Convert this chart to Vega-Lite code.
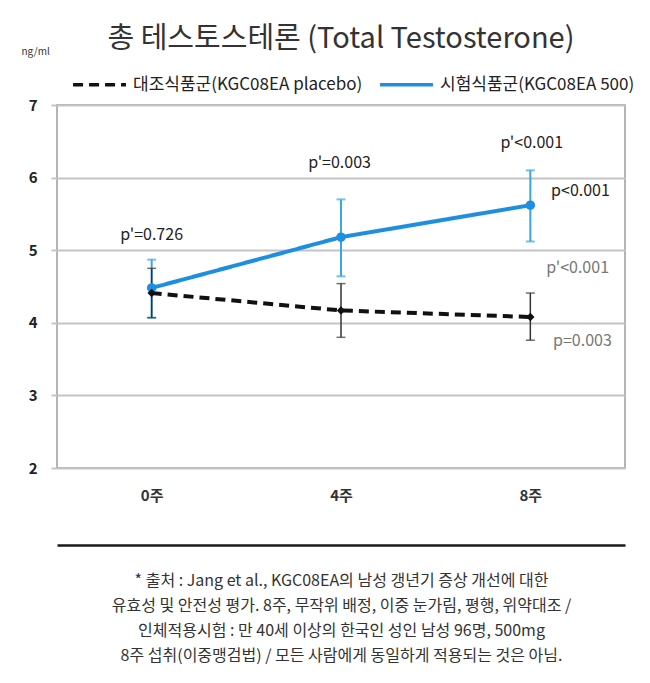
{
  "$schema": "https://vega.github.io/schema/vega-lite/v6.json",
  "width": 568,
  "height": 363,
  "autosize": {"type": "none"},
  "padding": {"left": 57, "top": 105, "right": 25, "bottom": 215},
  "background": "white",
  "title": {
    "text": "총 테스토스테론 (Total Testosterone)",
    "fontSize": 29,
    "fontWeight": "normal",
    "color": "#333333",
    "font": "Noto Sans CJK KR",
    "anchor": "middle",
    "offset": -8
  },
  "datasets": {
    "series": [
      {"week": 0, "group": "대조식품군(KGC08EA placebo)", "mean": 4.41, "lo": 4.07, "hi": 4.75},
      {"week": 4, "group": "대조식품군(KGC08EA placebo)", "mean": 4.17, "lo": 3.80, "hi": 4.54},
      {"week": 8, "group": "대조식품군(KGC08EA placebo)", "mean": 4.08, "lo": 3.76, "hi": 4.41},
      {"week": 0, "group": "시험식품군(KGC08EA 500)", "mean": 4.48, "lo": 4.07, "hi": 4.87},
      {"week": 4, "group": "시험식품군(KGC08EA 500)", "mean": 5.18, "lo": 4.64, "hi": 5.70},
      {"week": 8, "group": "시험식품군(KGC08EA 500)", "mean": 5.62, "lo": 5.12, "hi": 6.10}
    ],
    "notes": [
      {"week": 0, "value": 5.21, "label": "p'=0.726", "kind": "main"},
      {"week": 3.97, "value": 6.2, "label": "p'=0.003", "kind": "main"},
      {"week": 8.03, "value": 6.48, "label": "p'<0.001", "kind": "main"},
      {"week": 9.06, "value": 5.82, "label": "p<0.001", "kind": "main"},
      {"week": 9.0, "value": 4.75, "label": "p'<0.001", "kind": "faint"},
      {"week": 9.1, "value": 3.75, "label": "p=0.003", "kind": "faint"}
    ]
  },
  "resolve": {"axis": {"x": "independent"}},
  "layer": [
    {
      "data": {"name": "series"},
      "mark": {"type": "line", "strokeWidth": 4},
      "encoding": {
        "x": {
          "field": "week",
          "type": "quantitative",
          "scale": {"domain": [-2, 10], "nice": false, "zero": false},
          "axis": {
            "values": [0, 4, 8],
            "labelExpr": "datum.value + '주'",
            "ticks": false,
            "domain": false,
            "grid": false,
            "labelFontSize": 15,
            "labelFontWeight": "bold",
            "labelColor": "#333333",
            "labelPadding": 20,
            "labelFont": "Noto Sans CJK KR",
            "title": null
          }
        },
        "y": {
          "field": "mean",
          "type": "quantitative",
          "title": "ng/ml",
          "scale": {"domain": [2, 7], "nice": false, "zero": false},
          "axis": {
            "values": [2, 3, 4, 5, 6, 7],
            "format": "d",
            "grid": true,
            "gridColor": "#c4c4c4",
            "gridWidth": 2,
            "domain": false,
            "tickColor": "#c4c4c4",
            "tickSize": 6,
            "tickWidth": 2,
            "labelFontSize": 15,
            "labelFontWeight": "bold",
            "labelColor": "#222222",
            "labelPadding": 14,
            "labelFont": "Noto Sans CJK KR",
            "titleAngle": 0,
            "titleAlign": "left",
            "titleBaseline": "middle",
            "titleX": -36,
            "titleY": -54,
            "titleFontSize": 10,
            "titleFontWeight": "normal",
            "titleColor": "#333333",
            "titleFont": "Noto Sans CJK KR"
          }
        },
        "color": {
          "field": "group",
          "type": "nominal",
          "scale": {
            "domain": ["대조식품군(KGC08EA placebo)", "시험식품군(KGC08EA 500)"],
            "range": ["#111111", "#1e8fe0"]
          },
          "legend": {
            "orient": "none",
            "legendX": 14,
            "legendY": -49,
            "direction": "horizontal",
            "title": null,
            "labelFont": "Noto Sans CJK KR",
            "labelFontSize": 17,
            "labelLimit": 400,
            "labelColor": "#222222",
            "labelOffset": 5,
            "symbolType": "stroke",
            "symbolStrokeWidth": 3.5,
            "symbolSize": 2800,
            "columnPadding": 10
          }
        },
        "strokeDash": {
          "field": "group",
          "type": "nominal",
          "scale": {
            "domain": ["대조식품군(KGC08EA placebo)", "시험식품군(KGC08EA 500)"],
            "range": [[10, 6], [1, 0]]
          },
          "legend": {
            "orient": "none",
            "direction": "horizontal",
            "title": null
          }
        }
      }
    },
    {
      "data": {"name": "series"},
      "transform": [{"filter": "datum.group == '시험식품군(KGC08EA 500)'"}],
      "mark": {"type": "errorbar", "color": "#3aa6e6", "thickness": 2, "ticks": {"size": 9, "thickness": 2}},
      "encoding": {
        "x": {"field": "week", "type": "quantitative", "axis": null},
        "y": {"field": "lo", "type": "quantitative", "title": "ng/ml"},
        "y2": {"field": "hi"}
      }
    },
    {
      "data": {"name": "series"},
      "transform": [{"filter": "datum.group == '대조식품군(KGC08EA placebo)'"}],
      "mark": {"type": "errorbar", "color": "#333333", "thickness": 1.5, "ticks": {"size": 9, "thickness": 1.5}},
      "encoding": {
        "x": {"field": "week", "type": "quantitative", "axis": null},
        "y": {"field": "lo", "type": "quantitative", "title": "ng/ml"},
        "y2": {"field": "hi"}
      }
    },
    {
      "data": {"name": "series"},
      "transform": [{"filter": "datum.group == '시험식품군(KGC08EA 500)'"}],
      "mark": {"type": "point", "shape": "circle", "filled": true, "color": "#1e8fe0", "size": 90, "opacity": 1},
      "encoding": {
        "x": {"field": "week", "type": "quantitative", "axis": null},
        "y": {"field": "mean", "type": "quantitative", "title": "ng/ml"}
      }
    },
    {
      "data": {"name": "series"},
      "transform": [{"filter": "datum.group == '대조식품군(KGC08EA placebo)'"}],
      "mark": {"type": "point", "shape": "diamond", "filled": true, "color": "#111111", "size": 70, "opacity": 1},
      "encoding": {
        "x": {"field": "week", "type": "quantitative", "axis": null},
        "y": {"field": "mean", "type": "quantitative", "title": "ng/ml"}
      }
    },
    {
      "data": {"name": "notes"},
      "mark": {"type": "text", "font": "Noto Sans CJK KR", "fontSize": 16, "align": "center", "baseline": "middle"},
      "encoding": {
        "x": {
          "field": "week",
          "type": "quantitative",
          "axis": {
            "orient": "bottom",
            "offset": 77,
            "domain": true,
            "domainColor": "#1a1a1a",
            "domainWidth": 2.5,
            "labels": false,
            "ticks": false,
            "grid": false,
            "title": [
              "* 출처 : Jang et al., KGC08EA의 남성 갱년기 증상 개선에 대한",
              "유효성 및 안전성 평가. 8주, 무작위 배정, 이중 눈가림, 평행, 위약대조 /",
              "인체적용시험 : 만 40세 이상의 한국인 성인 남성 96명, 500mg",
              "8주 섭취(이중맹검법) / 모든 사람에게 동일하게 적용되는 것은 아님."
            ],
            "titleFont": "Noto Sans CJK KR",
            "titleFontSize": 16,
            "titleFontWeight": "normal",
            "titleColor": "#333333",
            "titlePadding": 27,
            "titleLineHeight": 25
          }
        },
        "y": {"field": "value", "type": "quantitative", "title": "ng/ml"},
        "text": {"field": "label"},
        "color": {"condition": {"test": "datum.kind == 'faint'", "value": "#777777"}, "value": "#222222"}
      }
    }
  ],
  "config": {
    "view": {"stroke": "#b4b4b4", "strokeWidth": 2}
  }
}
